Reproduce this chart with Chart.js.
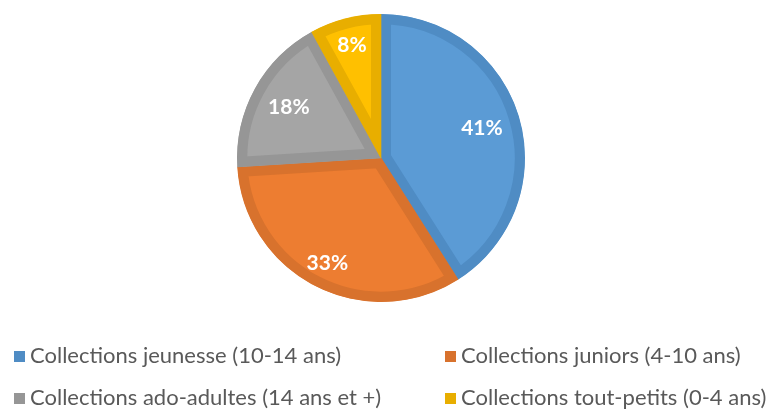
<!DOCTYPE html>
<html>
<head>
<meta charset="utf-8">
<script src="https://cdn.jsdelivr.net/npm/chart.js@4"></script>
<style>
  html, body { margin: 0; padding: 0; background: #fff; }
  #wrap { position: relative; width: 771px; height: 409px; }
  #legend { position: absolute; left: 0; top: 0; width: 771px; height: 409px; pointer-events: none;
            font-family: Lato, 'Open Sans', sans-serif; font-size: 22px; color: #595959; }
  .item { position: absolute; white-space: nowrap; line-height: 22px; }
  .box { display: inline-block; width: 11px; height: 11px; margin-right: 5px; vertical-align: 1px; }
</style>
</head>
<body>
<div id="wrap">
  <canvas id="chart" width="771" height="409"></canvas>
  <div id="legend"></div>
</div>
<script>
const categories = [
    'Collections jeunesse (10-14 ans)',
    'Collections juniors (4-10 ans)',
    'Collections ado-adultes (14 ans et +)',
    'Collections tout-petits (0-4 ans)'
];
const shares = [41, 33, 18, 8];
const fillColors = ['#5b9bd5', '#ed7d31', '#a5a5a5', '#ffc000'];
const borderColors = ['#4f8cc4', '#d8722d', '#969696', '#e8ae00'];

// étiquettes blanches dans les parts
const pieLabels = {
    id: 'pieLabels',
    afterDatasetsDraw(chart, args, opts) {
        const c = chart.ctx;
        const meta = chart.getDatasetMeta(0);
        c.save();
        c.fillStyle = '#ffffff';
        c.font = 'bold 21px Lato, "Open Sans", sans-serif';
        c.textAlign = 'center';
        c.textBaseline = 'middle';
        meta.data.forEach((arc, i) => {
            const p = arc.getProps(['x', 'y', 'startAngle', 'endAngle', 'outerRadius']);
            const mid = (p.startAngle + p.endAngle) / 2;
            const r = p.outerRadius * opts.radii[i];
            c.fillText(shares[i] + '%', p.x + Math.cos(mid) * r, p.y + Math.sin(mid) * r);
        });
        c.restore();
    }
};

const ctx = document.getElementById('chart').getContext('2d');
const chart = new Chart(ctx, {
    type: 'pie',
    data: {
        labels: categories,
        datasets: [{
            data: shares,
            backgroundColor: fillColors,
            borderColor: borderColors,
            borderWidth: 10,
            borderAlign: 'inner',
            hoverOffset: 0
        }]
    },
    options: {
        responsive: false,
        animation: false,
        layout: { padding: { top: 14, bottom: 107, left: 0, right: 9 } },
        plugins: {
            legend: { display: false },
            tooltip: { enabled: false },
            pieLabels: { radii: [0.73, 0.82, 0.73, 0.81] }
        }
    },
    plugins: [pieLabels]
});

// légende en deux colonnes
const legendPos = [[14, 344], [445, 344], [14, 386], [445, 386]];
const legend = document.getElementById('legend');
categories.forEach((name, i) => {
    const el = document.createElement('div');
    el.className = 'item';
    el.style.left = legendPos[i][0] + 'px';
    el.style.top = legendPos[i][1] + 'px';
    el.innerHTML = '<span class="box" style="background:' + borderColors[i] + '"></span>' + name;
    legend.appendChild(el);
});
</script>
</body>
</html>
